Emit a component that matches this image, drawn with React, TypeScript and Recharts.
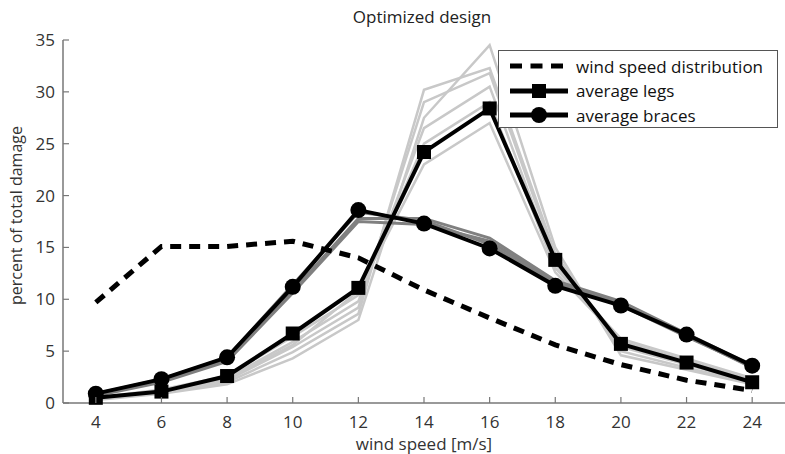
import { LineChart, Line, XAxis, YAxis } from "recharts";

// wind speed bins [m/s]
const windSpeeds = [4, 6, 8, 10, 12, 14, 16, 18, 20, 22, 24];
const xTicks = [4, 6, 8, 10, 12, 14, 16, 18, 20, 22, 24];
const yTicks = [0, 5, 10, 15, 20, 25, 30, 35];

const windDist = [9.7, 15.1, 15.1, 15.6, 14.0, 10.9, 8.2, 5.6, 3.7, 2.2, 1.2];
const legsAvg = [0.5, 1.1, 2.6, 6.7, 11.1, 24.2, 28.4, 13.8, 5.7, 3.9, 2.0];
const bracesAvg = [0.9, 2.3, 4.4, 11.2, 18.6, 17.3, 14.9, 11.3, 9.4, 6.6, 3.6];

// individual legs (light grey)
const legs1 = [0.3, 0.9, 1.8, 4.3, 8.0, 27.5, 34.5, 15.0, 4.6, 3.2, 1.8];
const legs2 = [0.4, 1.0, 2.0, 4.9, 8.6, 30.2, 32.3, 14.4, 5.0, 3.4, 1.9];
const legs3 = [0.4, 1.1, 2.2, 5.4, 9.2, 29.0, 31.8, 14.0, 5.4, 3.7, 2.0];
const legs4 = [0.5, 1.2, 2.4, 5.9, 9.8, 26.5, 30.5, 13.4, 5.8, 4.0, 2.2];
const legs5 = [0.5, 1.3, 2.6, 6.4, 10.4, 25.0, 29.0, 13.0, 6.2, 4.3, 2.4];
const legs6 = [0.4, 1.2, 2.3, 5.6, 10.8, 23.0, 27.0, 12.6, 6.0, 4.1, 2.3];

// individual braces (dark grey)
const braces1 = [0.8, 2.1, 4.1, 10.8, 17.8, 17.8, 15.9, 11.8, 9.8, 6.7, 3.6];
const braces2 = [0.7, 2.0, 4.0, 10.6, 17.5, 17.2, 15.6, 11.6, 9.6, 6.5, 3.4];
const braces3 = [0.9, 2.3, 4.4, 11.4, 18.4, 17.6, 15.3, 11.4, 9.4, 6.4, 3.5];

const legsGrey = [legs1, legs2, legs3, legs4, legs5, legs6];
const bracesGrey = [braces1, braces2, braces3];

const legendItems = [
  { label: "wind speed distribution", kind: "dash" },
  { label: "average legs", kind: "square" },
  { label: "average braces", kind: "circle" },
];

const data = windSpeeds.map((ws, i) => {
  const row: any = { ws, dist: windDist[i], legs: legsAvg[i], braces: bracesAvg[i] };
  legsGrey.forEach((s, k) => (row["l" + k] = s[i]));
  bracesGrey.forEach((s, k) => (row["b" + k] = s[i]));
  return row;
});

const FONT = "'Open Sans', 'DejaVu Sans', sans-serif";

const XTick = (props: any) => {
  const { x, y, payload } = props;
  return (
    <g>
      <line x1={x} y1={y} x2={x} y2={y - 6} stroke="#777" strokeWidth={1.2} />
      <text x={x} y={y + 25} textAnchor="middle" fill="#333" fontSize={17} fontFamily={FONT}>
        {payload.value}
      </text>
    </g>
  );
};

const YTick = (props: any) => {
  const { x, y, payload } = props;
  return (
    <g>
      <line x1={x} y1={y} x2={x + 6} y2={y} stroke="#777" strokeWidth={1.2} />
      <text x={x - 8} y={y + 6} textAnchor="end" fill="#333" fontSize={17} fontFamily={FONT}>
        {payload.value}
      </text>
    </g>
  );
};

const SquareDot = (props: any) => {
  const { cx, cy, index } = props;
  return <rect key={"s" + index} x={cx - 7} y={cy - 7} width={14} height={14} fill="#000" />;
};

const CircleDot = (props: any) => {
  const { cx, cy, index } = props;
  return <circle key={"c" + index} cx={cx} cy={cy} r={8} fill="#000" />;
};

const LegendBox = () => (
  <div
    style={{
      position: "absolute",
      left: 498,
      top: 50,
      background: "#fff",
      border: "1px solid #555",
      width: 280,
      height: 78,
      fontFamily: FONT,
      fontSize: 17,
      color: "#111",
      boxSizing: "border-box",
      paddingTop: 3,
    }}
  >
    {legendItems.map((e) => (
      <div key={e.label} style={{ display: "flex", alignItems: "center", height: 24.5 }}>
        <svg width={62} height={20} style={{ marginLeft: 10 }}>
          <line
            x1={1}
            y1={10}
            x2={59}
            y2={10}
            stroke="#000"
            strokeWidth={5}
            strokeDasharray={e.kind === "dash" ? "12 8.5" : undefined}
          />
          {e.kind === "square" && <rect x={23} y={3} width={14} height={14} fill="#000" />}
          {e.kind === "circle" && <circle cx={30} cy={10} r={8} fill="#000" />}
        </svg>
        <span style={{ marginLeft: 5 }}>{e.label}</span>
      </div>
    ))}
  </div>
);

export default function App() {
  return (
    <div style={{ position: "absolute", left: 0, top: 0, width: 785, height: 454, background: "#fff" }}>
      <div
        style={{
          position: "absolute",
          top: 5,
          left: 322,
          width: 200,
          textAlign: "center",
          fontFamily: FONT,
          fontSize: 17,
          color: "#222",
        }}
      >
        Optimized design
      </div>
      <LineChart width={785} height={454} data={data} margin={{ top: 40, right: 0, bottom: 0, left: 0 }}>
        <XAxis
          dataKey="ws"
          type="number"
          domain={[3, 25]}
          ticks={xTicks}
          height={51}
          tickSize={0}
          tickMargin={0}
          tick={<XTick />}
          axisLine={{ stroke: "#777", strokeWidth: 1.5 }}
          tickLine={false}
          label={{ value: "wind speed [m/s]", position: "insideBottom", offset: 4, fill: "#333", fontSize: 17, fontFamily: FONT }}
        />
        <YAxis
          type="number"
          domain={[0, 35]}
          ticks={yTicks}
          width={63}
          tickSize={0}
          tickMargin={0}
          tick={<YTick />}
          axisLine={{ stroke: "#777", strokeWidth: 1.5 }}
          tickLine={false}
          label={{ value: "percent of total damage", angle: -90, position: "insideLeft", offset: 16, dy: -6, fill: "#333", fontSize: 16, fontFamily: FONT, style: { textAnchor: "middle" } }}
        />
        {legsGrey.map((_, k) => (
          <Line key={"l" + k} dataKey={"l" + k} stroke="#c8c8c8" strokeWidth={2.5} dot={false} isAnimationActive={false} />
        ))}
        {bracesGrey.map((_, k) => (
          <Line key={"b" + k} dataKey={"b" + k} stroke="#808080" strokeWidth={3} dot={false} isAnimationActive={false} />
        ))}
        <Line dataKey="dist" stroke="#000" strokeWidth={5} strokeDasharray="11 8" dot={false} isAnimationActive={false} />
        <Line dataKey="legs" stroke="#000" strokeWidth={4} dot={<SquareDot />} isAnimationActive={false} />
        <Line dataKey="braces" stroke="#000" strokeWidth={4} dot={<CircleDot />} isAnimationActive={false} />
      </LineChart>
      <LegendBox />
    </div>
  );
}
